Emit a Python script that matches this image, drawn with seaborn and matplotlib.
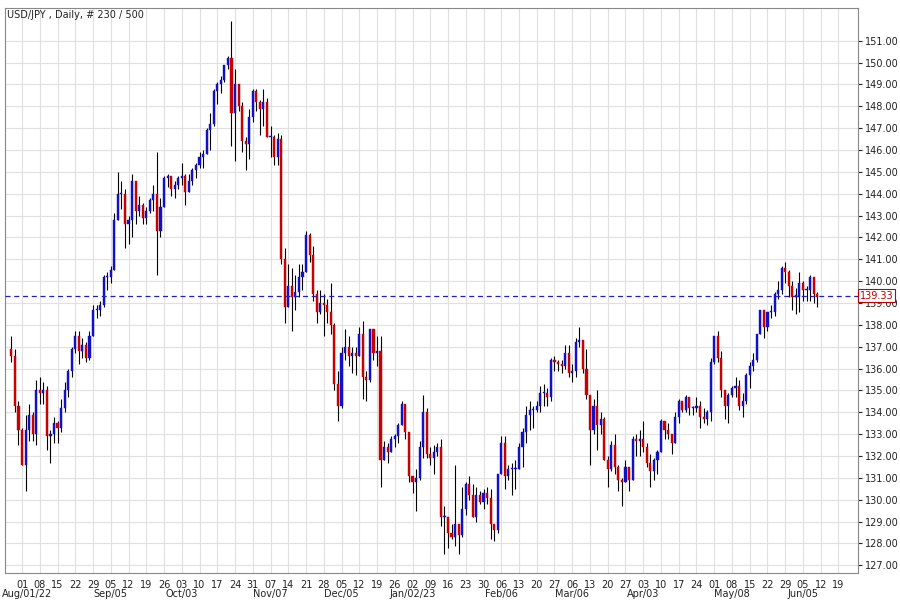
import numpy as np
import pandas as pd
import matplotlib
matplotlib.use("Agg")
import matplotlib.pyplot as plt
import matplotlib.transforms as mtransforms
import seaborn as sns

# daily closes / highs / lows (Jul 27 2022 .. Jun 09 2023, weekdays)
closes = [
    136.6, 134.3, 133.2,
    131.6, 133.2, 133.9, 133.0, 135.0,
    134.9, 135.0, 132.9, 133.0, 133.5,
    133.3, 134.2, 135.0, 135.9, 136.9,
    137.5, 136.8, 137.1, 136.5, 137.5,
    138.7, 138.7, 138.9, 140.2, 140.2,
    140.5, 142.8, 144.0, 144.0, 142.6,
    142.8, 144.6, 143.2, 143.5, 142.9,
    143.2, 143.7, 144.0, 142.3, 143.4,
    144.7, 144.8, 144.2, 144.4, 144.7,
    144.8, 144.1, 144.6, 145.1, 145.3,
    145.7, 145.8, 146.9, 147.2, 148.7,
    149.0, 149.2, 149.9, 150.2, 147.7,
    149.0, 148.0, 146.4, 146.3, 147.5,
    148.7, 148.2, 147.9, 148.2, 146.6,
    146.6, 145.7, 146.5, 141.0, 138.8,
    139.8, 139.3, 139.5, 140.2, 140.4,
    142.1, 141.2, 139.4, 138.6, 139.0,
    138.9, 138.6, 138.0, 135.3, 134.3,
    136.7, 137.0, 136.6, 136.7, 136.6,
    137.6, 135.6, 135.5, 137.8, 136.7,
    136.8, 131.8, 132.4, 132.2, 132.8,
    132.9, 133.4, 134.4, 133.1, 131.1,
    130.8, 131.0, 132.4, 134.0, 132.1,
    131.9, 132.2, 132.4, 129.2, 129.2,
    128.5, 128.3, 128.9, 128.4, 129.6,
    130.7, 130.2, 129.2, 130.2, 129.9,
    130.3, 130.1, 128.9, 128.6, 131.2,
    132.6, 131.1, 131.4, 131.4, 131.4,
    132.4, 133.1, 133.9, 134.1, 134.1,
    134.3, 134.9, 134.9, 134.7, 136.4,
    136.3, 136.2, 136.1, 136.7, 135.8,
    135.9, 137.2, 137.3, 136.0, 134.8,
    133.2, 134.3, 133.4, 133.7, 131.8,
    131.4, 132.5, 131.5, 130.9, 130.8,
    131.5, 130.9, 132.8, 132.7, 132.8,
    132.4, 131.7, 131.3, 131.8, 132.2,
    133.6, 133.2, 133.0, 132.6, 133.8,
    134.5, 134.1, 134.7, 134.2, 134.2,
    134.3, 133.8, 133.7, 134.0, 136.3,
    137.5, 136.5, 135.0, 134.3, 134.8,
    135.1, 135.2, 134.3, 134.5, 135.7,
    136.1, 136.4, 137.6, 138.7, 137.9,
    138.6, 138.6, 139.4, 139.6, 140.6,
    140.4, 139.8, 139.3, 139.3, 139.9,
    139.6, 139.6, 140.2, 139.4, 139.3,
]
highs = [
    137.5, 136.9, 134.5,
    133.3, 133.9, 134.4, 134.0, 135.5,
    135.6, 135.4, 135.2, 133.2, 133.8,
    133.6, 134.6, 135.4, 136.0, 137.0,
    137.7, 137.7, 137.4, 137.2, 137.7,
    138.9, 138.9, 139.1, 140.3, 140.4,
    140.7, 143.1, 145.0, 144.6, 144.2,
    143.0, 144.9, 144.3, 143.9, 143.6,
    143.4, 143.8, 144.4, 145.9, 143.8,
    144.8, 144.9, 144.8, 144.6, 144.8,
    145.4, 144.9, 144.9, 145.2, 145.4,
    145.9, 146.0, 147.0, 147.7, 148.8,
    149.1, 149.4, 149.9, 150.3, 151.9,
    149.7, 149.0, 148.2, 146.6, 147.9,
    148.8, 148.8, 148.3, 148.8, 148.4,
    147.1, 146.7, 146.8, 146.7, 141.5,
    140.8, 140.6, 140.3, 140.8, 140.8,
    142.3, 142.2, 141.6, 139.6, 139.6,
    139.4, 139.2, 139.9, 138.1, 135.9,
    137.0, 137.8, 137.5, 137.0, 137.0,
    137.9, 138.2, 135.9, 137.8, 137.3,
    137.5, 137.5, 132.7, 132.6, 132.9,
    133.0, 133.5, 134.5, 134.4, 133.1,
    131.1, 131.4, 132.7, 134.8, 134.2,
    132.4, 132.5, 132.6, 132.8, 129.7,
    129.2, 128.9, 131.6, 128.9, 130.6,
    130.8, 131.1, 130.7, 130.6, 130.4,
    130.5, 130.6, 130.5, 128.9, 131.2,
    132.9, 132.9, 131.6, 131.7, 131.8,
    132.6, 133.3, 134.3, 134.5, 134.3,
    134.5, 135.2, 135.3, 135.1, 136.5,
    136.6, 136.4, 136.4, 137.1, 137.1,
    136.2, 137.4, 137.9, 137.3, 136.9,
    134.8, 134.6, 135.0, 134.0, 133.8,
    132.0, 132.7, 133.0, 131.6, 131.0,
    131.8, 131.2, 132.9, 133.0, 133.2,
    133.6, 132.6, 132.1, 131.9, 132.3,
    133.7, 133.6, 133.5, 133.0, 134.0,
    134.6, 134.5, 134.8, 134.7, 134.3,
    134.7, 134.5, 134.2, 134.1, 136.5,
    137.5, 137.7, 136.8, 135.0, 134.9,
    135.2, 135.6, 135.5, 134.9, 135.8,
    136.3, 136.7, 137.6, 138.7, 138.7,
    138.6, 138.9, 139.5, 140.0, 140.7,
    140.9, 140.5, 140.0, 139.7, 140.4,
    140.0, 139.8, 140.3, 140.2, 139.5,
]
lows = [
    136.3, 134.0, 132.5,
    131.6, 130.4, 132.7, 132.7, 132.5,
    134.4, 134.4, 132.3, 131.7, 132.6,
    132.6, 133.1, 134.0, 134.7, 135.6,
    136.7, 136.2, 136.5, 136.3, 136.4,
    137.7, 138.3, 138.4, 138.8, 139.6,
    139.9, 140.6, 142.8, 143.3, 141.5,
    141.7, 142.0, 142.6, 143.0, 142.6,
    142.6, 143.1, 143.2, 140.3, 142.0,
    143.4, 144.3, 143.9, 143.8, 144.2,
    144.4, 143.5, 144.1, 144.4, 144.7,
    145.2, 145.2, 145.8, 146.0, 147.1,
    148.1, 148.6, 149.1, 149.7, 146.2,
    145.5, 147.8, 145.9, 145.1, 145.6,
    147.3, 147.8, 146.7, 147.1, 146.6,
    145.7, 145.3, 145.3, 140.8, 138.1,
    138.9, 137.7, 138.7, 139.3, 139.6,
    140.4, 140.9, 139.1, 138.1, 138.5,
    137.5, 138.1, 137.6, 135.0, 133.6,
    134.2, 136.4, 136.1, 135.8, 135.7,
    136.6, 134.6, 134.5, 135.4, 136.4,
    136.1, 130.6, 131.8, 131.7, 132.2,
    132.4, 132.6, 133.4, 132.8, 130.8,
    130.3, 129.5, 130.9, 131.9, 131.9,
    131.6, 131.2, 132.0, 128.8, 127.5,
    127.8, 128.2, 127.9, 127.5, 128.3,
    129.3, 130.0, 129.2, 129.0, 129.8,
    129.6, 129.8, 128.2, 128.1, 128.5,
    131.2, 130.5, 130.9, 130.2, 130.5,
    131.6, 131.5, 132.6, 133.2, 133.3,
    134.0, 134.0, 134.3, 134.3, 134.5,
    135.9, 135.9, 135.8, 136.0, 135.6,
    135.4, 135.6, 137.0, 135.8, 134.6,
    131.6, 133.0, 132.3, 133.0, 131.8,
    130.6, 131.3, 131.2, 130.4, 129.7,
    130.8, 130.4, 130.9, 132.0, 132.0,
    132.2, 131.5, 130.6, 130.9, 131.2,
    132.2, 132.8, 132.8, 132.1, 132.6,
    133.5, 134.0, 134.0, 133.9, 133.9,
    134.0, 133.3, 133.5, 133.4, 133.6,
    136.2, 136.3, 134.7, 133.7, 133.5,
    134.7, 134.7, 134.1, 133.8, 134.4,
    135.1, 135.9, 136.3, 137.6, 137.4,
    137.7, 138.3, 138.4, 139.2, 139.4,
    139.9, 139.3, 138.7, 138.5, 138.6,
    139.1, 139.1, 139.1, 139.0, 138.8,
]
first_open = 136.9
last_price = 139.33

week_labels = ["01", "08", "15", "22", "29", "05", "12", "19", "26", "03", "10", "17",
               "24", "31", "07", "14", "21", "28", "05", "12", "19", "26", "02", "09",
               "16", "23", "30", "06", "13", "20", "27", "06", "13", "20", "27", "03",
               "10", "17", "24", "01", "08", "15", "22", "29", "05", "12", "19"]
month_labels = {0: "Aug/01/22", 5: "Sep/05", 9: "Oct/03", 14: "Nov/07", 18: "Dec/05",
                22: "Jan/02/23", 27: "Feb/06", 31: "Mar/06", 35: "Apr/03",
                40: "May/08", 44: "Jun/05"}

df = pd.DataFrame({"close": closes, "high": highs, "low": lows})
df["open"] = [first_open] + closes[:-1]
df["high"] = df[["high", "open", "close"]].max(axis=1)
df["low"] = df[["low", "open", "close"]].min(axis=1)
df["x"] = np.arange(len(df))
up = df["close"] >= df["open"]

sns.set_style("white")
plt.rcParams["font.family"] = ["DejaVu Sans"]

fig = plt.figure(figsize=(9, 6.05), dpi=100)
ax = fig.add_axes([5 / 900, 32 / 605, 853 / 900, 565 / 605])

first_monday = 3
ax.set_xlim(-1.8, 238.5)
ax.set_ylim(126.65, 152.5)

# grid
for w in range(len(week_labels)):
    ax.axvline(first_monday + 5 * w, color="#e0e0e0", lw=0.8, zorder=0)
for v in range(127, 152):
    ax.axhline(v, color="#e0e0e0", lw=0.8, zorder=0)

ax.vlines(df["x"], df["low"], df["high"], color="black", lw=0.8, zorder=2)
body = (df["close"] - df["open"]).abs().clip(lower=0.05)
bottom = df[["open", "close"]].min(axis=1)
ax.bar(df["x"][up], body[up], bottom=bottom[up], width=0.6, color="#1010c8",
       edgecolor="#1010c8", lw=0.3, zorder=3)
ax.bar(df["x"][~up], body[~up], bottom=bottom[~up], width=0.6, color="#c80000",
       edgecolor="#c80000", lw=0.3, zorder=3)

ax.axhline(last_price, color="#2020c0", lw=0.9, ls=(0, (4, 3)), zorder=4)

ax.yaxis.tick_right()
ax.set_yticks(range(127, 152))
ax.set_yticklabels([f"{v}.00" for v in range(127, 152)], fontsize=7)
ax.tick_params(axis="y", length=3, pad=2, colors="#222222")
ax.text(1.002, last_price, f"{last_price:.2f}",
        transform=mtransforms.blended_transform_factory(ax.transAxes, ax.transData),
        fontsize=7, color="#c00000", va="center", ha="left",
        bbox=dict(boxstyle="square,pad=0.15", fc="white", ec="#c00000", lw=0.8), zorder=6)

xt = [first_monday + 5 * w for w in range(len(week_labels))]
ax.set_xticks(xt)
ax.set_xticklabels(week_labels, fontsize=7)
ax.tick_params(axis="x", length=3, pad=2, colors="#222222")
trans = mtransforms.blended_transform_factory(ax.transData, ax.transAxes)
for w, lab in month_labels.items():
    if w == 0:
        ax.text(-0.004, -0.038, lab, transform=ax.transAxes, fontsize=7,
                ha="left", va="center", color="#222222")
    else:
        ax.text(first_monday + 5 * w, -0.038, lab, transform=trans, fontsize=7,
                ha="center", va="center", color="#222222")

for s in ax.spines.values():
    s.set_color("#888888")
    s.set_linewidth(0.8)

ax.text(0.002, 0.997, "USD/JPY , Daily, # 230 / 500", transform=ax.transAxes,
        fontsize=7, va="top", ha="left", color="#222222")

fig.savefig("out.png", dpi=100)
